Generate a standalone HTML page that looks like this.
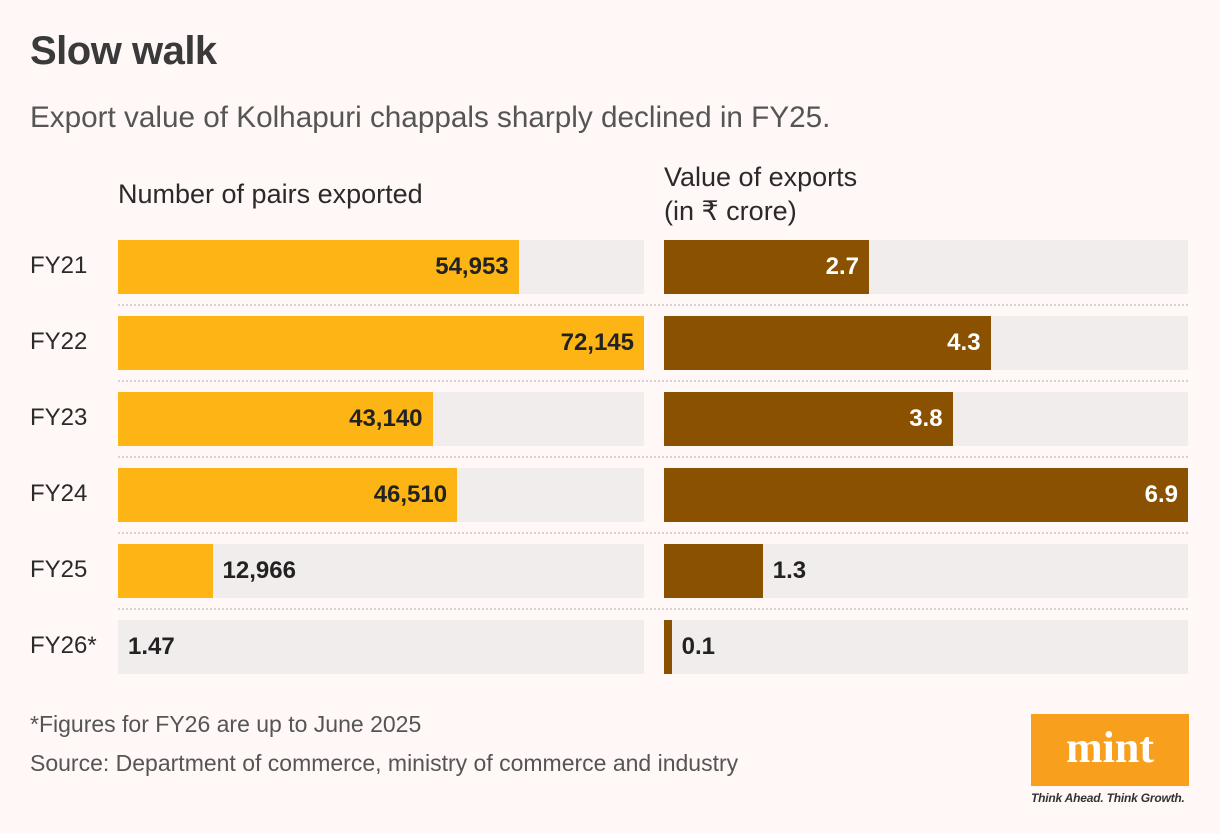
<!DOCTYPE html>
<html><head><meta charset="utf-8"><style>
body{margin:0;width:1220px;height:834px;background:#fff8f7;font-family:"Liberation Sans",sans-serif;position:relative;overflow:hidden;color:#222}
.a{position:absolute}
.title{left:30px;top:29px;font-size:40px;font-weight:bold;color:#3a3a3a;letter-spacing:-0.5px}
.sub{left:30px;top:101px;font-size:29.7px;color:#555}
.hd{font-size:27px;color:#2a2a2a;line-height:34px}
.cat{left:30px;font-size:24px;color:#2a2a2a}
.trk{background:#f2eded;height:54px}
.bar{height:54px}
.lbl{font-size:24px;font-weight:bold;line-height:54px;height:54px}
.sep{left:118px;width:1070px;border-top:2px dotted #d8d2d2;height:0}
.foot{left:30px;font-size:23px;color:#555}
</style></head><body>
<div class="a title">Slow walk</div>
<div class="a sub">Export value of Kolhapuri chappals sharply declined in FY25.</div>
<div class="a hd" style="left:118px;top:177px">Number of pairs exported</div>
<div class="a hd" style="left:664px;top:160px">Value of exports<br>(in ₹ crore)</div>
<div id="chart"></div>
<div class="a foot" style="top:711px">*Figures for FY26 are up to June 2025</div>
<div class="a foot" style="top:750px">Source: Department of commerce, ministry of commerce and industry</div>
<div class="a" style="left:1031px;top:714px;width:158px;height:72px;background:#f99f1e">
<div style="color:#fff;font-family:'Liberation Serif',serif;font-weight:bold;font-size:44px;text-align:center;line-height:68px">mint</div></div>
<div class="a" style="left:1031px;top:791px;font-size:12px;font-style:italic;font-weight:bold;color:#333;letter-spacing:-0.2px">Think Ahead. Think Growth.</div>
<script>
const categories=["FY21","FY22","FY23","FY24","FY25","FY26*"];
const pairs=[54953,72145,43140,46510,12966,1.47];
const pairLabels=["54,953","72,145","43,140","46,510","12,966","1.47"];
const values=[2.7,4.3,3.8,6.9,1.3,0.1];
const valueLabels=["2.7","4.3","3.8","6.9","1.3","0.1"];
const root=document.getElementById('chart');
function mk(cls,style,text){const d=document.createElement('div');d.className='a '+cls;Object.assign(d.style,style);if(text!=null)d.textContent=text;root.appendChild(d);return d;}
const x1=(v)=>v/72145*526, x2=(v)=>v/6.9*524;
function panel(left,w,vals,labs,sc,color,inColor,prefix){
 vals.forEach((v,i)=>{
  const top=240+i*76;
  const t=mk('trk',{left:left+'px',top:top+'px',width:w+'px'});
  
  
  const bw=Math.max(sc(v),v>0&&prefix==='value'?5:0);
  const b=mk('bar',{left:left+'px',top:top+'px',width:bw+'px',background:color});
  
  
  const inside=bw>110;
  const l=mk('lbl',inside?{left:left+'px',width:(bw-10)+'px',textAlign:'right',top:top+'px',color:inColor}:{left:(left+bw+10)+'px',top:top+'px',color:'#222'},labs[i]);
  
  
 });
}
categories.forEach((c,i)=>{
 const d=mk('cat',{top:(240+i*76+12)+'px'},c);
 
 
 if(i<5){const s=mk('sep',{top:(304+i*76)+'px'});
 
 }
});
panel(118,526,pairs,pairLabels,x1,'#fdb515','#222','pairs');
panel(664,524,values,valueLabels,x2,'#8a5200','#fff','value');
</script>
</body></html>
